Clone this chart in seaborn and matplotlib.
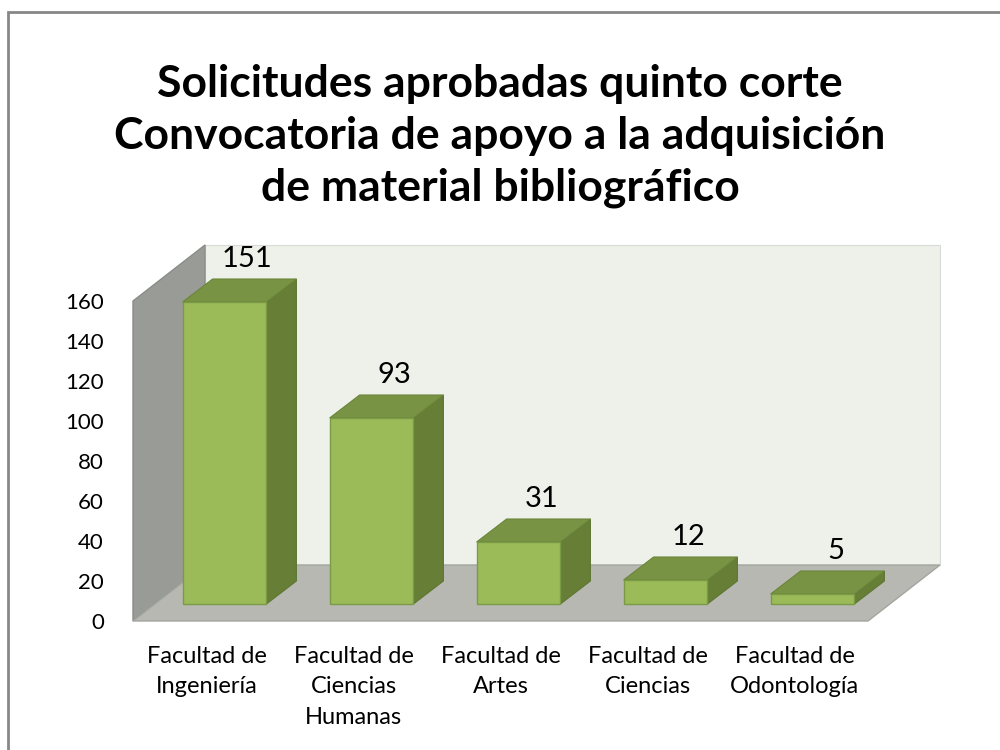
import numpy as np
import pandas as pd
import matplotlib
matplotlib.use("Agg")
import matplotlib.pyplot as plt
import seaborn as sns
from matplotlib.patches import Polygon, Rectangle
from matplotlib.transforms import ScaledTranslation

categories = ["Facultad de\nIngeniería", "Facultad de\nCiencias\nHumanas",
              "Facultad de\nArtes", "Facultad de\nCiencias", "Facultad de\nOdontología"]
values = [151, 93, 31, 12, 5]
y_ticks = [0, 20, 40, 60, 80, 100, 120, 140, 160]
title = ("Solicitudes aprobadas quinto corte\n"
         "Convocatoria de apoyo a la adquisición\n"
         "de material bibliográfico")

sns.set_theme(style="white")
plt.rcParams['font.family'] = ['Lato', 'DejaVu Sans']

W, H = 1000, 750
fig = plt.figure(figsize=(10, 7.5), dpi=100)
fig.patch.set_facecolor("white")
ax = fig.add_axes([133 / W, 1 - 621 / H, 735 / W, 320 / H])
ax.set_facecolor("none")

df = pd.DataFrame({"cat": categories, "val": values})
sns.barplot(data=df, x="cat", y="val", ax=ax, width=0.57, color="#9BBB59",
            edgecolor="#7A9A45", linewidth=1.0, saturation=1, zorder=5)
ax.set_ylim(0, 160)
ax.set_xlim(-0.5, 4.5)
ax.set_yticks(y_ticks)
ax.set_xlabel("")
ax.set_ylabel("")
for s in ax.spines.values():
    s.set_visible(False)
ax.tick_params(axis="y", length=0, pad=21, labelsize=16, labelcolor="black")
ax.tick_params(axis="x", length=0, pad=18, labelsize=17, labelcolor="black")
for lab in ax.get_xticklabels():
    lab.set_linespacing(1.55)
    lab.set_verticalalignment("top")

fig.canvas.draw()
to_disp = ax.transData.transform
to_data = ax.transData.inverted().transform


def shift(pt, dx, dy):
    d = to_disp(pt)
    return to_data((d[0] + dx, d[1] + dy))


bars = [q for q in ax.patches if q.get_zorder() == 5]

# walls and floor (depth offset in pixels)
DX, DY = 72, 56
x0, x1 = -0.5, 4.5
fl = [(x0, 0), (x1, 0), shift((x1, 0), DX, DY), shift((x0, 0), DX, DY)]
bw = [shift((x0, 0), DX, DY), shift((x1, 0), DX, DY),
      shift((x1, 160), DX, DY), shift((x0, 160), DX, DY)]
lw_ = [(x0, 0), shift((x0, 0), DX, DY), shift((x0, 160), DX, DY), (x0, 160)]
ax.add_patch(Polygon(bw, closed=True, facecolor="#EEF1EA", edgecolor="#D8DBD5",
                     lw=0.8, clip_on=False, zorder=0))
ax.add_patch(Polygon(lw_, closed=True, facecolor="#999B96", edgecolor="#8A8C88",
                     lw=1.0, clip_on=False, zorder=1))
ax.add_patch(Polygon(fl, closed=True, facecolor="#B6B8B1", edgecolor="#A3A59F",
                     lw=1.0, clip_on=False, zorder=2))

# 3D bars: front offset and bar depth in pixels
FX, FY = 18, 17
BX, BY = 30, 23
off = ScaledTranslation(FX / 100, FY / 100, fig.dpi_scale_trans)
for p, v in zip(bars, values):
    bx0 = p.get_x()
    bx1 = bx0 + p.get_width()
    h = p.get_height()
    p.set_transform(ax.transData + off)
    p.set_clip_on(False)
    fbr = shift((bx1, 0), FX, FY)
    ftl = shift((bx0, h), FX, FY)
    ftr = shift((bx1, h), FX, FY)
    btl = shift((bx0, h), FX + BX, FY + BY)
    btr = shift((bx1, h), FX + BX, FY + BY)
    bbr = shift((bx1, 0), FX + BX, FY + BY)
    ax.add_patch(Polygon([fbr, ftr, btr, bbr], closed=True, facecolor="#667E36",
                         edgecolor="#5E7632", lw=0.8, clip_on=False, zorder=4))
    ax.add_patch(Polygon([ftl, ftr, btr, btl], closed=True, facecolor="#779343",
                         edgecolor="#6B863A", lw=0.8, clip_on=False, zorder=4))
    cx = (bx0 + bx1) / 2
    ax.annotate(str(v), (cx, h), xytext=((FX + BX / 2 + 8) * 0.72, 60 * 0.72),
                textcoords="offset points", ha="center", va="center",
                fontsize=21, color="black", annotation_clip=False, zorder=6)

fig.text(0.5, 1 - 136 / H, title, ha="center", va="center", fontsize=32,
         fontweight="bold", linespacing=1.36, color="black")

fig.patches.append(Rectangle((8 / W, -0.1), 1.2, 1.1 - 12 / H,
                             transform=fig.transFigure, fill=False,
                             edgecolor="#878787", lw=2))

fig.savefig("out.png", dpi=100)
